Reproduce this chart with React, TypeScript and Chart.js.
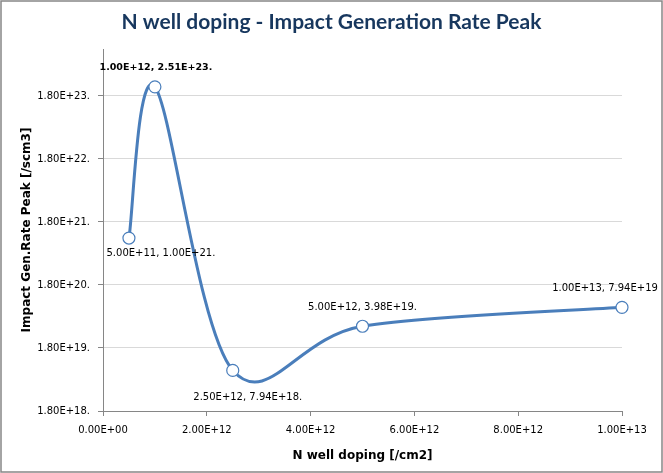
import React, { useEffect, useRef } from "react";
import { Chart, registerables } from "chart.js";

Chart.register(...registerables);

// ---- data ----
const X_VALUES = [5e11, 1e12, 2.5e12, 5e12, 1e13];
const Y_VALUES = [1.0e21, 2.51e23, 7.94e18, 3.98e19, 7.94e19];
const LABEL_SUFFIX = [".", ".", ".", ".", ""];
const LABEL_BOLD = [false, true, false, false, false];

const X_MIN = 0;
const X_MAX = 1e13;
const X_STEP = 2e12;

const Y_MIN = 1.8e18;
const Y_MAX = 1.0e24;
const Y_TICKS = [1.8e18, 1.8e19, 1.8e20, 1.8e21, 1.8e22, 1.8e23];
const Y_TICK_LABELS = ["1.80E+18.", "1.80E+19.", "1.80E+20.", "1.80E+21.", "1.80E+22.", "1.80E+23."];

const TITLE = "N well doping - Impact Generation Rate Peak";
const X_TITLE = "N well doping [/cm2]";
const Y_TITLE = "Impact Gen.Rate Peak [/scm3]";

// ---- styles ----
const LINE_COLOR = "#4A7EBB";
const AXIS_COLOR = "#868686";
const GRID_COLOR = "#D9D9D9";
const TITLE_COLOR = "#17375E";
const LABEL_OFFSETS: [number, number][] = [
  [32, 15],
  [1, -19],
  [15, 27],
  [0, -19],
  [-17, -19],
];

function sci(v: number): string {
  if (v === 0) return "0.00E+00";
  const s = v.toExponential(2);
  const [m, e] = s.split("e");
  const sign = e[0] === "-" ? "-" : "+";
  const d = e.replace(/^[+-]/, "");
  return m + "E" + sign + d.padStart(2, "0");
}

const frame = {
  id: "frame",
  beforeDraw(chart: any) {
    const { ctx, width, height } = chart;
    ctx.save();
    ctx.fillStyle = "#ffffff";
    ctx.fillRect(0, 0, width, height);
    ctx.strokeStyle = AXIS_COLOR;
    ctx.lineWidth = 1.5;
    ctx.strokeRect(1, 1, width - 2, height - 2);
    ctx.restore();
  },
};

// Excel-style smoothing: Catmull-Rom control points (neighbour difference / 6)
const excelSmooth = {
  id: "excelSmooth",
  beforeDatasetDraw(chart: any, args: any) {
    const meta = args.meta || chart.getDatasetMeta(args.index);
    const line = meta.dataset;
    if (line && typeof line.updateControlPoints === "function") {
      line.updateControlPoints(chart.chartArea, meta.iScale ? meta.iScale.axis : "x");
    }
    const pts = meta.data;
    const n = pts.length;
    for (let i = 0; i < n; i++) {
      const prev = pts[Math.max(i - 1, 0)];
      const next = pts[Math.min(i + 1, n - 1)];
      const p = pts[i];
      const tx = (next.x - prev.x) / 6;
      const ty = (next.y - prev.y) / 6;
      p.cp1x = p.x - tx;
      p.cp1y = p.y - ty;
      p.cp2x = p.x + tx;
      p.cp2y = p.y + ty;
    }
    if (line) line._path = undefined;
  },
};

const pointLabels = {
  id: "pointLabels",
  afterDatasetsDraw(chart: any) {
    const { ctx } = chart;
    const meta = chart.getDatasetMeta(0);
    ctx.save();
    ctx.fillStyle = "#000000";
    ctx.textAlign = "center";
    ctx.textBaseline = "middle";
    meta.data.forEach((pt: any, i: number) => {
      const text = sci(X_VALUES[i]) + ", " + sci(Y_VALUES[i]) + LABEL_SUFFIX[i];
      ctx.font = LABEL_BOLD[i] ? "bold 9.5px 'DejaVu Sans'" : "10px 'DejaVu Sans'";
      const [dx, dy] = LABEL_OFFSETS[i];
      ctx.fillText(text, pt.x + dx, pt.y + dy);
    });
    ctx.restore();
  },
};

export default function App() {
  const ref = useRef<HTMLCanvasElement | null>(null);

  useEffect(() => {
    if (!ref.current) return;
    const chart = new Chart(ref.current, {
      type: "line",
      data: {
        datasets: [
          {
            data: X_VALUES.map((x, i) => ({ x, y: Y_VALUES[i] })),
            borderColor: LINE_COLOR,
            borderWidth: 3,
            tension: 0.5,
            pointRadius: 6,
            pointBackgroundColor: "#ffffff",
            pointBorderColor: LINE_COLOR,
            pointBorderWidth: 1.2,
            clip: false,
            yAxisID: "y",
            xAxisID: "x",
          } as any,
        ],
      },
      plugins: [frame, excelSmooth, pointLabels],
      options: {
        animation: false,
        responsive: false,
        events: [],
        layout: { padding: 0 },
        plugins: {
          legend: { display: false },
          tooltip: { enabled: false },
          title: {
            display: true,
            text: TITLE,
            color: TITLE_COLOR,
            font: { family: "Lato", size: 21, weight: "bold", lineHeight: 1.2 },
            padding: { top: 9.4, bottom: 14.4 },
          },
        },
        scales: {
          x: {
            type: "linear",
            min: X_MIN,
            max: X_MAX,
            afterFit(scale: any) {
              scale.height = 62;
            },
            ticks: {
              stepSize: X_STEP,
              color: "#000000",
              padding: 8,
              maxRotation: 0,
              font: { family: "DejaVu Sans", size: 10 },
              callback: (v: any) => sci(Number(v)),
            },
            grid: {
              drawOnChartArea: false,
              tickLength: 5,
              tickColor: AXIS_COLOR,
            },
            border: { color: AXIS_COLOR, width: 1 },
            title: {
              display: true,
              text: X_TITLE,
              color: "#000000",
              font: { family: "DejaVu Sans", size: 12, weight: "bold", lineHeight: 1.2 },
              padding: { top: 0, bottom: 10 },
            },
          },
          y: {
            type: "logarithmic",
            position: "left",
            min: Y_MIN,
            max: Y_MAX,
            afterFit(scale: any) {
              scale.width = 103;
            },
            afterBuildTicks(scale: any) {
              scale.ticks = Y_TICKS.map((value) => ({ value }));
            },
            ticks: {
              color: "#000000",
              padding: 8,
              font: { family: "DejaVu Sans", size: 10 },
              callback: (_v: any, i: number) => Y_TICK_LABELS[i],
            },
            grid: {
              color: GRID_COLOR,
              tickLength: 5,
              tickColor: AXIS_COLOR,
            },
            border: { color: AXIS_COLOR, width: 1 },
            title: {
              display: true,
              text: Y_TITLE,
              color: "#000000",
              font: { family: "DejaVu Sans", size: 12, weight: "bold", lineHeight: 1.2 },
              padding: { top: 20, bottom: 0 },
            },
          },
          // empty spacer on the right so the title stays centred on the whole chart
          spacer: {
            type: "linear",
            position: "right",
            display: true,
            afterFit(scale: any) {
              scale.width = 41;
            },
            ticks: { display: false },
            grid: { display: false, drawTicks: false },
            border: { display: false },
          },
        },
      } as any,
    });
    return () => chart.destroy();
  }, []);

  return (
    <div style={{ position: "fixed", left: 0, top: 0, width: 663, height: 473 }}>
      <canvas ref={ref} width={663} height={473} />
    </div>
  );
}
